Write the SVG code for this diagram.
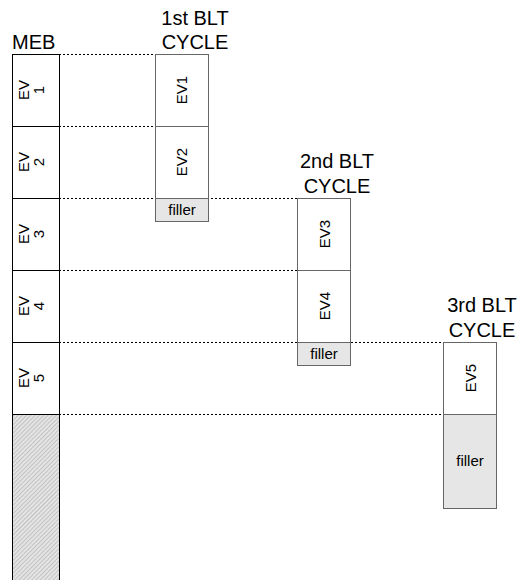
<svg xmlns="http://www.w3.org/2000/svg" width="520" height="580" viewBox="0 0 520 580">
<style>
.t{font-family:"Liberation Sans",Arial,sans-serif;fill:#000}
.title{font-size:20px}
.lbl{font-size:15px}
.meb{fill:#fff;stroke:#000;stroke-width:1}
.col{fill:#fff;stroke:#666;stroke-width:1}
.fill{fill:#e6e6e6;stroke:#666;stroke-width:1}
.dash{stroke:#000;stroke-width:1;stroke-dasharray:2,2;fill:none}
</style>
<defs>
<pattern id="hatch" width="3" height="3" patternUnits="userSpaceOnUse" patternTransform="rotate(45)">
<rect width="3" height="3" fill="#e4e4e4"/>
<line x1="0" y1="0" x2="0" y2="3" stroke="#a0a0a0" stroke-width="1"/>
</pattern>
</defs>
<g id="connectors">
<line class="dash" x1="59" y1="54.5" x2="155" y2="54.5"/>
<line class="dash" x1="59" y1="126.5" x2="155" y2="126.5"/>
<line class="dash" x1="59" y1="198.5" x2="297" y2="198.5"/>
<line class="dash" x1="59" y1="270.5" x2="297" y2="270.5"/>
<line class="dash" x1="59" y1="342.5" x2="443" y2="342.5"/>
<line class="dash" x1="59" y1="414.5" x2="443" y2="414.5"/>
</g>
<g id="meb">
<text class="t title" x="12" y="49">MEB</text>
<g id="meb-ev1"><rect class="meb" x="12.5" y="54.5" width="47" height="72"/>
<text class="t lbl" transform="translate(35.5,90) rotate(-90)" text-anchor="middle"><tspan x="0" y="-7">EV</tspan><tspan x="0" y="8">1</tspan></text></g>
<g id="meb-ev2"><rect class="meb" x="12.5" y="126.5" width="47" height="72"/>
<text class="t lbl" transform="translate(35.5,162) rotate(-90)" text-anchor="middle"><tspan x="0" y="-7">EV</tspan><tspan x="0" y="8">2</tspan></text></g>
<g id="meb-ev3"><rect class="meb" x="12.5" y="198.5" width="47" height="72"/>
<text class="t lbl" transform="translate(35.5,234) rotate(-90)" text-anchor="middle"><tspan x="0" y="-7">EV</tspan><tspan x="0" y="8">3</tspan></text></g>
<g id="meb-ev4"><rect class="meb" x="12.5" y="270.5" width="47" height="72"/>
<text class="t lbl" transform="translate(35.5,306) rotate(-90)" text-anchor="middle"><tspan x="0" y="-7">EV</tspan><tspan x="0" y="8">4</tspan></text></g>
<g id="meb-ev5"><rect class="meb" x="12.5" y="342.5" width="47" height="72"/>
<text class="t lbl" transform="translate(35.5,378) rotate(-90)" text-anchor="middle"><tspan x="0" y="-7">EV</tspan><tspan x="0" y="8">5</tspan></text></g>
<g id="meb-empty"><rect x="12.5" y="414.5" width="47" height="170" fill="url(#hatch)" stroke="#000" stroke-width="1"/></g>
</g>
<g id="cycle1">
<text class="t title" x="195" y="25" text-anchor="middle">1st BLT</text>
<text class="t title" x="195" y="49" text-anchor="middle">CYCLE</text>
<g id="c1-ev1"><rect class="col" x="155.5" y="54.5" width="53" height="72"/>
<text class="t lbl" transform="translate(187,90) rotate(-90)" text-anchor="middle">EV1</text></g>
<g id="c1-ev2"><rect class="col" x="155.5" y="126.5" width="53" height="72"/>
<text class="t lbl" transform="translate(187,162) rotate(-90)" text-anchor="middle">EV2</text></g>
<g id="c1-filler"><rect class="fill" x="155.5" y="198.5" width="53" height="23"/>
<text class="t lbl" x="182" y="215" text-anchor="middle">filler</text></g>
</g>
<g id="cycle2">
<text class="t title" x="337" y="168" text-anchor="middle">2nd BLT</text>
<text class="t title" x="337" y="193" text-anchor="middle">CYCLE</text>
<g id="c2-ev3"><rect class="col" x="297.5" y="198.5" width="53" height="72"/>
<text class="t lbl" transform="translate(329.5,234) rotate(-90)" text-anchor="middle">EV3</text></g>
<g id="c2-ev4"><rect class="col" x="297.5" y="270.5" width="53" height="72"/>
<text class="t lbl" transform="translate(329.5,306) rotate(-90)" text-anchor="middle">EV4</text></g>
<g id="c2-filler"><rect class="fill" x="297.5" y="342.5" width="53" height="23"/>
<text class="t lbl" x="324" y="359" text-anchor="middle">filler</text></g>
</g>
<g id="cycle3">
<text class="t title" x="482" y="312" text-anchor="middle">3rd BLT</text>
<text class="t title" x="482" y="337" text-anchor="middle">CYCLE</text>
<g id="c3-ev5"><rect class="col" x="443.5" y="342.5" width="53" height="72"/>
<text class="t lbl" transform="translate(475.5,378) rotate(-90)" text-anchor="middle">EV5</text></g>
<g id="c3-filler"><rect class="fill" x="443.5" y="414.5" width="53" height="94"/>
<text class="t lbl" x="470" y="466" text-anchor="middle">filler</text></g>
</g>
</svg>
